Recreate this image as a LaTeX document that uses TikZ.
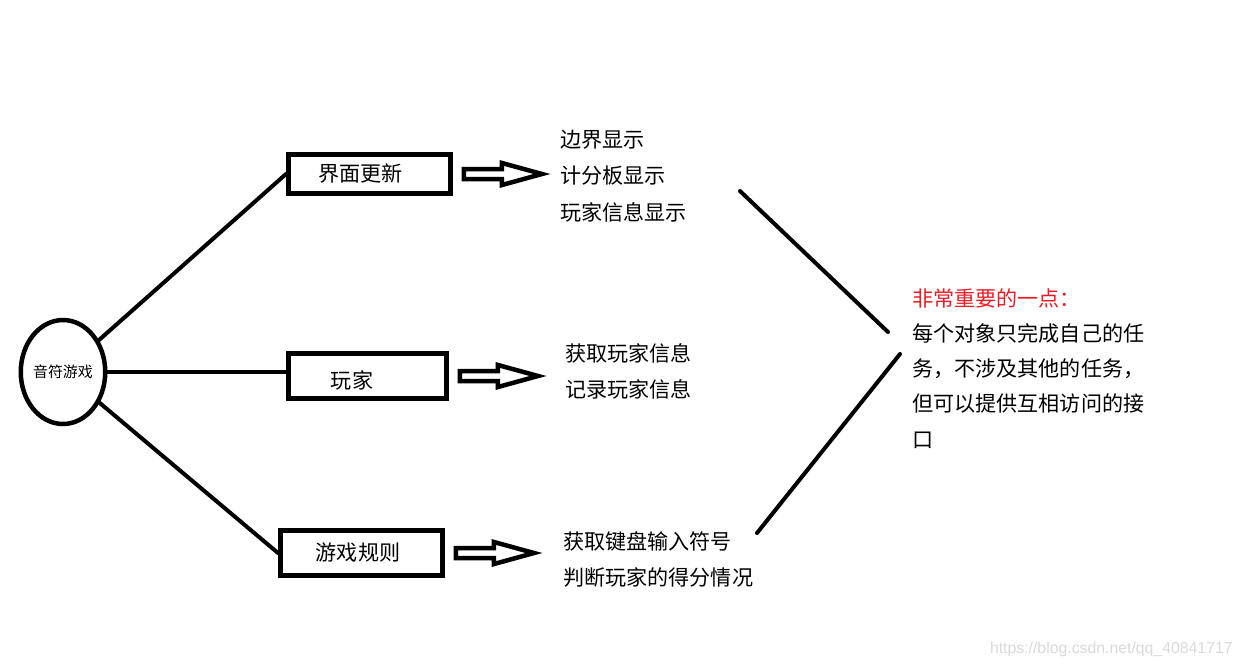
\documentclass[tikz,border=0pt]{standalone}
\usepackage{fontspec}
\setmainfont{Noto Sans CJK SC}
\newfontfamily\markfont{Liberation Sans}
\usetikzlibrary{shapes.geometric,positioning}
\definecolor{notered}{RGB}{237,28,36}
\tikzset{
  conn/.style={line width=0.08cm, line cap=round},
  box/.style={draw, line width=0.1cm, inner sep=0pt, minimum width=3.24cm},
  blocktext/.style={anchor=base west, align=left, inner sep=0pt,
    font=\fontsize{12}{20.2}\selectfont},
  hollowarrow/.pic={
    \draw[line width=0.09cm] (0,-5) -- (38,-5) -- (38,-11) -- (78,0) -- (38,11) -- (38,5) -- (0,5) -- cycle;}
}

\begin{document}
\begin{tikzpicture}[x=0.02cm, y=-0.02cm]
		\useasboundingbox (0,0) rectangle (1243,667);
		% root
		\node[draw, ellipse, line width=0.09cm, inner sep=0pt, minimum width=1.6cm, minimum height=2.08cm,
		  font=\fontsize{8.5}{10}\selectfont] (game) at (63,372) {音符游戏};
		% modules
		\node[box, minimum height=0.78cm, label={[xshift=-0.18cm]center:\fontsize{12}{14}\selectfont 界面更新}] (iface) at (369.5,174) {};
		\node[box, minimum width=3.16cm, minimum height=0.9cm, label={[xshift=-0.31cm, yshift=-0.08cm]center:\fontsize{12}{14}\selectfont 玩家}] (player) at (367.5,376) {};
		\node[box, minimum height=0.9cm, label={[xshift=-0.07cm]center:\fontsize{12}{14}\selectfont 游戏规则}] (rules) at (361.5,553) {};
		\draw[conn] (game) -- (iface.west);
		\draw[conn] (game.east) -- (game.east -| player.west);
		\draw[conn] (game) -- (rules.west);
		% hollow arrows
		\pic at ([xshift=0.22cm]iface.east) {hollowarrow};
		\pic at ([xshift=0.22cm]player.east) {hollowarrow};
		\pic at ([xshift=0.22cm]rules.east) {hollowarrow};
		% tasks (base = last line)
		\node[blocktext, font=\fontsize{12}{20.6}\selectfont] (ifacelist) at (560,220) {边界显示\\计分板显示\\玩家信息显示};
		\node[blocktext] (playerlist) at (565,397) {获取玩家信息\\记录玩家信息};
		\node[blocktext] (ruleslist) at (563,585) {获取键盘输入符号\\判断玩家的得分情况};
		% note
		\node[blocktext, font=\fontsize{12}{20}\selectfont] (note) at (912,447) {{\color{notered}非常重要的一点：}\\每个对象只完成自己的任\\务，不涉及其他的任务，\\但可以提供互相访问的接\\口};
		\coordinate (upA) at (740,191);
		\coordinate (upB) at (888,332);
		\coordinate (lowA) at (757,533);
		\coordinate (lowB) at (900,354);
		\draw[conn] (upA) -- (upB);
		\draw[conn] (lowA) -- (lowB);
		\node[anchor=east, inner sep=0pt, text=black!15, font=\markfont\fontsize{9}{10}\selectfont] (mark) at (1233,649) {https://blog.csdn.net/qq\_40841717};
\end{tikzpicture}
\end{document}
